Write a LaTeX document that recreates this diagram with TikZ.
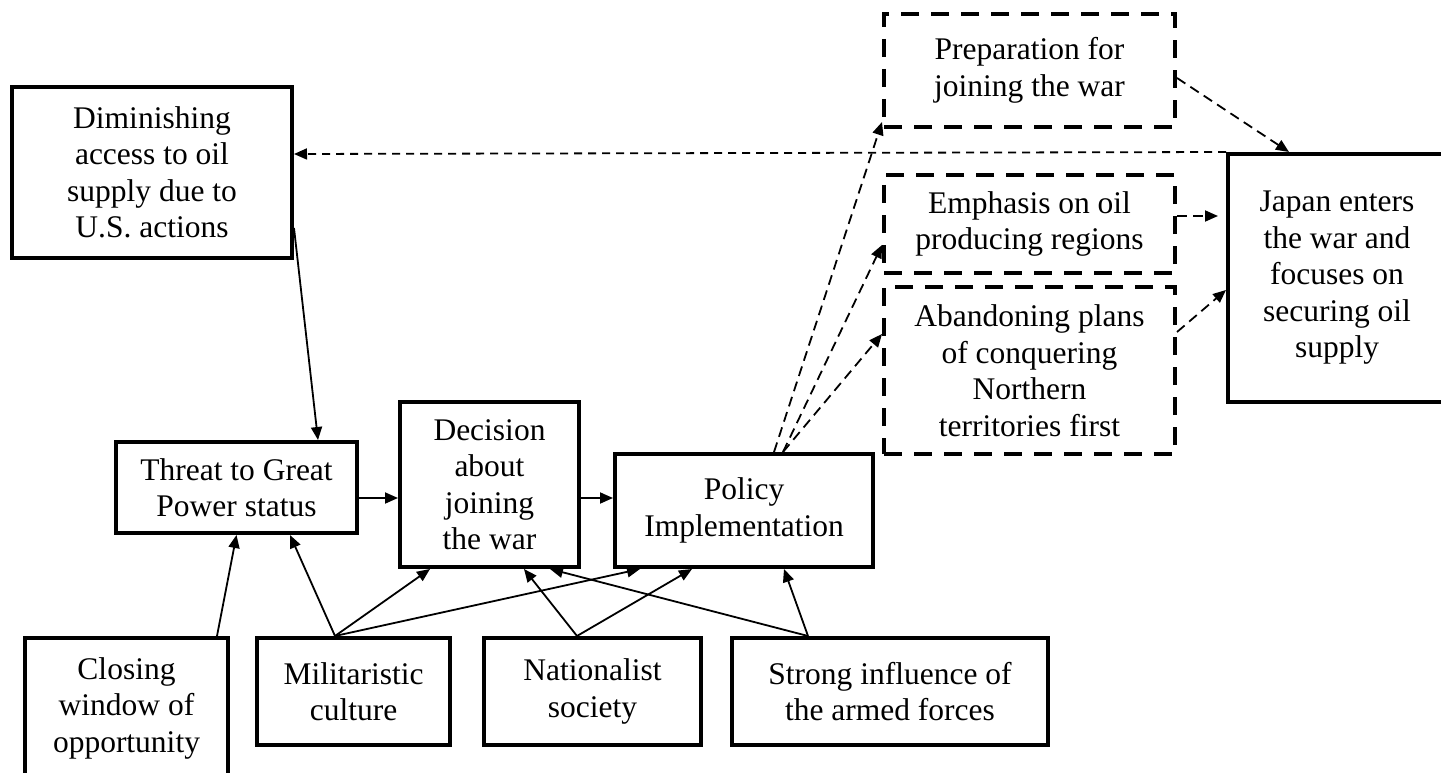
\documentclass[tikz,border=0pt]{standalone}
\usepackage{fontspec}
\setmainfont{Liberation Serif}
\usetikzlibrary{arrows.meta}

\begin{document}
\begin{tikzpicture}[x=1pt, y=-1pt,
  every node/.style={font=\fontsize{31.5}{36.5}\selectfont},
  box/.style={draw, line width=4pt, align=center, inner sep=0pt},
  dbox/.style={box, dash pattern=on 18pt off 12pt},
  arr/.style={-{Triangle[length=13pt,width=11pt]}, line width=1.8pt},
  darr/.style={arr, dash pattern=on 10pt off 6pt}]
\useasboundingbox (0,0) rectangle (1441,773);
% causes
\node[box, minimum width=280pt, minimum height=171pt] (dim) at (152,172.5) {Diminishing\\access to oil\\supply due to\\U.S. actions};
\node[box, minimum width=241pt, minimum height=91pt] (threat) at (236.5,487.5) {Threat to Great\\Power status};
\node[box, minimum width=179pt, minimum height=165pt] (dec) at (489.5,484.5) {Decision\\about\\joining\\the war};
\node[box, minimum width=258pt, minimum height=113pt] (policy) at (744,510.5) {Policy\\Implementation};
\node[box, minimum width=203pt, minimum height=140pt] (closing) at (126.5,708) {Closing\\window of\\opportunity};
\node[box, minimum width=193pt, minimum height=107pt] (milit) at (353.5,691.5) {Militaristic\\culture};
\node[box, minimum width=217pt, minimum height=107pt] (nation) at (592.5,691.5) {Nationalist\\society};
\node[box, minimum width=316pt, minimum height=107pt] (strong) at (890,691.5) {Strong influence of\\the armed forces};
% outcomes
\node[dbox, minimum width=291pt, minimum height=113pt] (prep) at (1029.5,70.5) {Preparation for\\joining the war};
\node[dbox, minimum width=291pt, minimum height=98pt] (emph) at (1029.5,224) {Emphasis on oil\\producing regions};
\node[dbox, minimum width=291pt, minimum height=167pt] (aband) at (1029.5,370.5) {Abandoning plans\\of conquering\\Northern\\territories first};
\node[box, minimum width=218pt, minimum height=248pt] (japan) at (1337,278) {Japan enters\\the war and\\focuses on\\securing oil\\supply};
% links
\draw[arr] ([yshift=-55.5pt]dim.east) -- ([xshift=81.5pt]threat.north);
\draw[arr] ([xshift=90.5pt]closing.north) -- (threat.south);
\draw[arr] ([xshift=-18.5pt]milit.north) -- ([xshift=53.5pt]threat.south);
\draw[arr] ([xshift=-18.5pt]milit.north) -- ([xshift=-59.5pt]dec.south);
\draw[arr] ([xshift=-18.5pt]milit.north) -- ([xshift=-104pt]policy.south);
\draw[arr] ([xshift=-15.5pt]nation.north) -- ([xshift=34.5pt]dec.south);
\draw[arr] ([xshift=-15.5pt]nation.north) -- ([xshift=-52pt]policy.south);
\draw[arr] ([xshift=-82pt]strong.north) -- ([xshift=60.5pt]dec.south);
\draw[arr] ([xshift=-82pt]strong.north) -- ([xshift=40pt]policy.south);
\draw[arr] ([yshift=-10.5pt]threat.east) -- ([yshift=-13.5pt]dec.west);
\draw[arr] ([yshift=-13.5pt]dec.east) -- ([yshift=12.5pt]policy.west);
\draw[darr] ([xshift=30pt]policy.north) -- ([yshift=7pt]prep.south west);
\draw[darr] ([xshift=39pt]policy.north) -- ([yshift=-21pt]emph.west);
\draw[darr] ([xshift=39pt]policy.north) -- ([yshift=36.5pt]aband.west);
\draw[darr] ([yshift=-7.5pt]prep.east) -- ([xshift=-48pt]japan.north);
\draw[darr, shorten >=8pt] ([yshift=8pt]emph.east) -- ([yshift=62pt]japan.west);
\draw[darr] ([yshift=38.5pt]aband.east) -- ([yshift=-12pt]japan.west);
\draw[arr, dash pattern=on 8pt off 6pt] (japan.north west) -- ([yshift=18.5pt]dim.east);
\end{tikzpicture}
\end{document}
